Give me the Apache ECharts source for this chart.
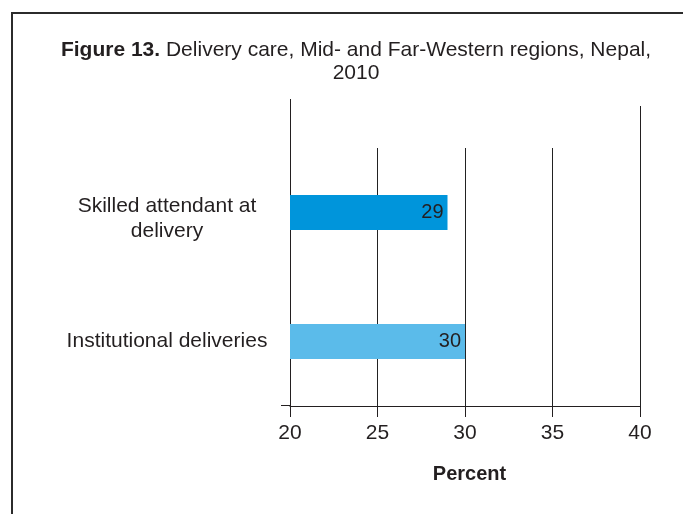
<!DOCTYPE html>
<html>
<head>
<meta charset="utf-8">
<script src="https://cdn.jsdelivr.net/npm/echarts@6/dist/echarts.min.js"></script>
<style>
  html, body { margin: 0; padding: 0; background: #ffffff; }
  #chart { width: 683px; height: 514px; }
</style>
</head>
<body>
<div id="chart"></div>
<script>
// Delivery care indicators, Mid- and Far-Western regions, Nepal, 2010
const categories = ['Skilled attendant at\ndelivery', 'Institutional deliveries'];
const percentValues = [29, 30];
const barColors = ['#0095db', '#5bbbea'];
const xTicks = [20, 25, 30, 35, 40];

const INK = '#231f20';
const FONT = '"Liberation Sans", Arial, Helvetica, sans-serif';

const chart = echarts.init(document.getElementById('chart'), null, { renderer: 'canvas' });

// Category labels: multi-line names sit a little below the bar centre
function categoryLabel(value) {
  const lines = value.split('\n').map(s => '{t|' + s + '}');
  if (lines.length > 1) lines.unshift('{gap| }');
  return lines.join('\n');
}

const option = {
  backgroundColor: '#ffffff',
  animation: false,
  title: {
    text: '{b|Figure 13.} Delivery care, Mid- and Far-Western regions, Nepal,\n2010',
    left: 351,
    top: 34,
    textAlign: 'center',
    textStyle: {
      fontFamily: FONT,
      fontSize: 21,
      fontWeight: 'normal',
      color: INK,
      lineHeight: 23,
      rich: {
        b: { fontFamily: FONT, fontSize: 21, fontWeight: 'bold', color: INK, lineHeight: 23 }
      }
    }
  },
  grid: { left: 290, right: 43, top: 148, bottom: 108, containLabel: false, outerBoundsMode: 'none' },
  xAxis: {
    type: 'value',
    min: xTicks[0],
    max: xTicks[xTicks.length - 1],
    interval: xTicks[1] - xTicks[0],
    name: 'Percent',
    nameLocation: 'middle',
    nameGap: 58,
    nameTextStyle: {
      fontFamily: FONT, fontSize: 20, fontWeight: 'bold', color: INK,
      padding: [0, 0, 0, 9]
    },
    axisLine: { show: true, lineStyle: { color: INK, width: 1 } },
    axisTick: { show: true, inside: false, length: 11, lineStyle: { color: INK, width: 1 } },
    axisLabel: { fontFamily: FONT, fontSize: 21, color: INK, margin: 17 },
    splitLine: { show: true, lineStyle: { color: '#222222', width: 1 } }
  },
  yAxis: {
    type: 'category',
    inverse: true,
    data: categories,
    axisLine: { show: true, lineStyle: { color: INK, width: 1 } },
    axisTick: { show: false },
    axisLabel: {
      fontFamily: FONT, fontSize: 21, color: INK,
      align: 'center', margin: 123, lineHeight: 25,
      formatter: categoryLabel,
      rich: {
        t: { fontFamily: FONT, fontSize: 21, color: INK, lineHeight: 25, align: 'center' },
        gap: { fontSize: 8, lineHeight: 12 }
      }
    },
    splitLine: { show: false }
  },
  series: [{
    type: 'bar',
    data: percentValues.map((v, i) => ({ value: v, itemStyle: { color: barColors[i] } })),
    barWidth: 35,
    label: {
      show: true,
      position: 'insideRight',
      distance: 4,
      fontFamily: FONT,
      fontSize: 20,
      color: INK
    }
  }],
  graphic: [{
    type: 'polyline',
    shape: { points: [[695, 13], [12, 13], [12, 530]] },
    style: { stroke: '#2b2b2b', lineWidth: 2, fill: null },
    silent: true
  }]
};

chart.setOption(option);

// Extend the outer gridlines above the plot area and the baseline a little to the left
const x20 = chart.convertToPixel({ xAxisIndex: 0 }, xTicks[0]);
const x40 = chart.convertToPixel({ xAxisIndex: 0 }, xTicks[xTicks.length - 1]);
const gridRect = chart.getModel().getComponent('grid', 0).coordinateSystem.getRect();
const lineStyle = { stroke: INK, lineWidth: 1 };
const baseY = gridRect.y + gridRect.height - 0.5;
chart.setOption({
  graphic: [
    option.graphic[0],
    { type: 'line', shape: { x1: Math.round(x20) + 0.5, y1: 99, x2: Math.round(x20) + 0.5, y2: gridRect.y + 1 }, style: lineStyle, silent: true },
    { type: 'line', shape: { x1: Math.round(x40) + 0.5, y1: 106, x2: Math.round(x40) + 0.5, y2: gridRect.y + 1 }, style: lineStyle, silent: true },
    { type: 'line', shape: { x1: 281, y1: baseY, x2: x20, y2: baseY }, style: lineStyle, silent: true }
  ]
});
</script>
</body>
</html>
